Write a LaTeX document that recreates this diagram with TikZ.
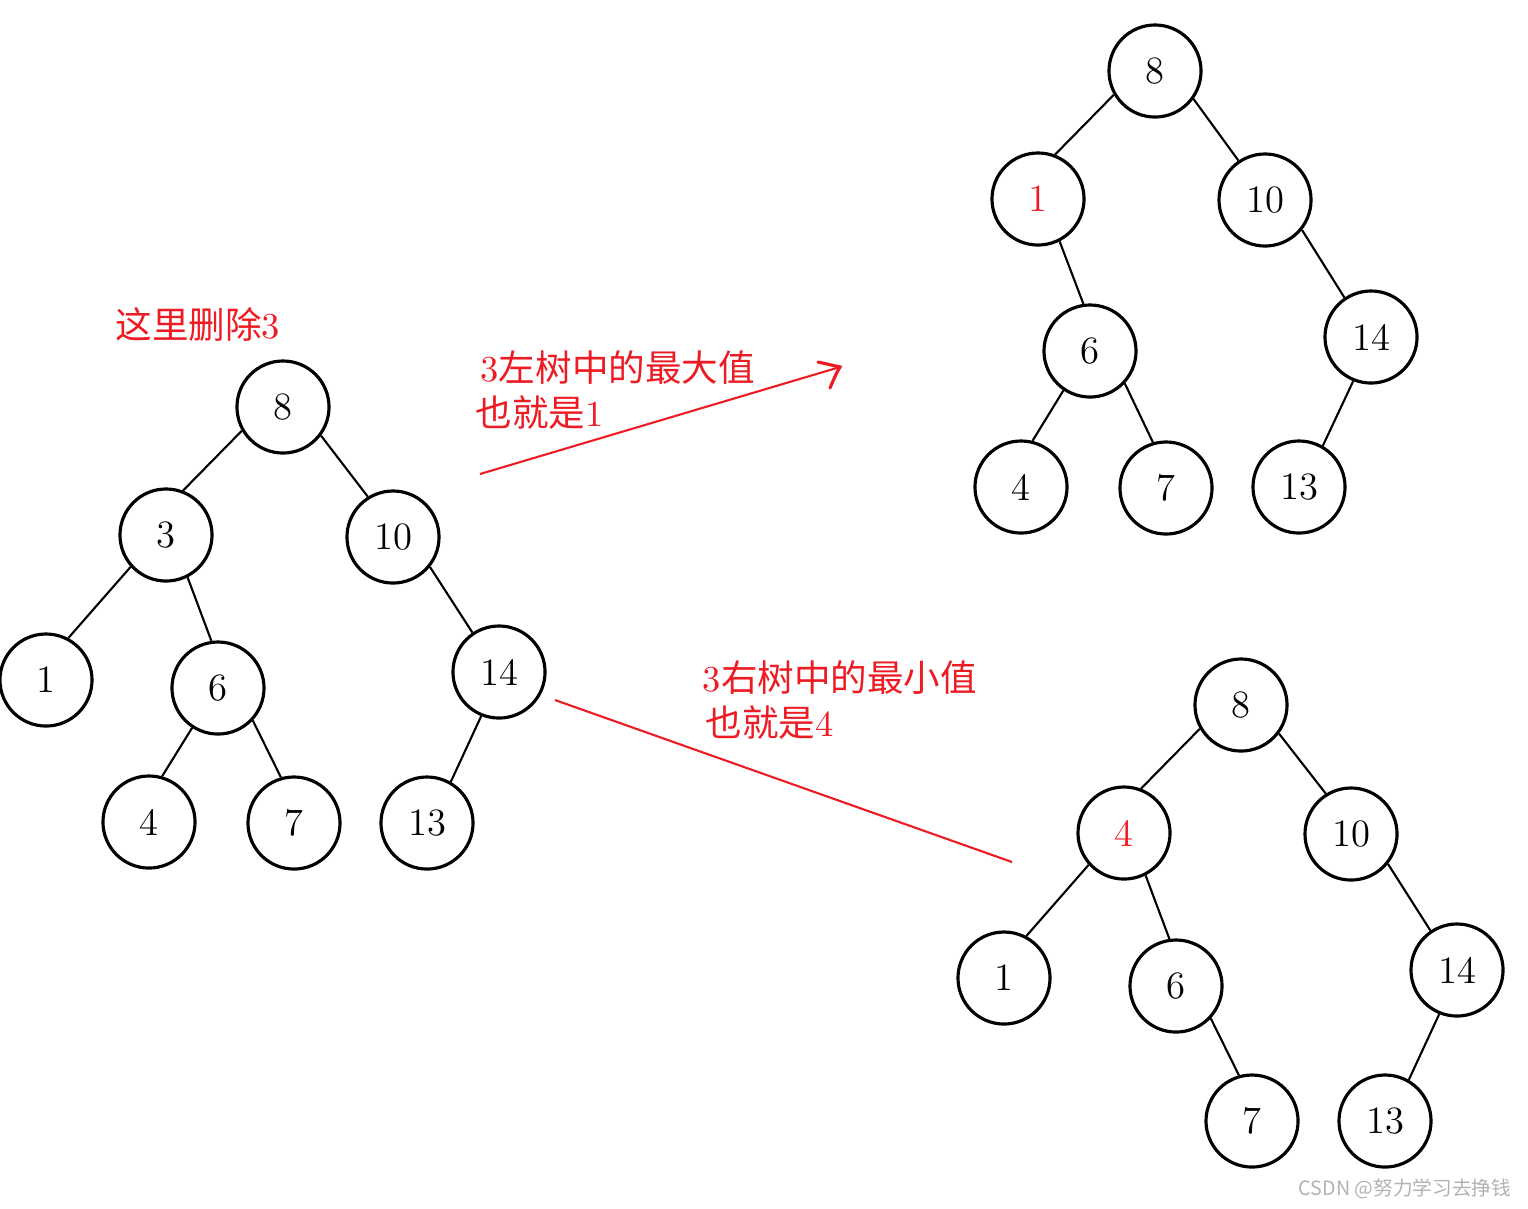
\documentclass[tikz,border=0pt]{standalone}
\usepackage{fontspec}
\newfontfamily\cjk{Noto Sans CJK SC}
\definecolor{paintred}{RGB}{237,28,36}
\begin{document}
\begin{tikzpicture}
[nodedecorate/.style={shape=circle,minimum size=0.92cm,inner sep=0pt,draw,line width=0.9pt,font=\fontsize{11}{13}\selectfont},%
  linedecorate/.style={-,line width=0.6pt},%
  redline/.style={-,paintred,line width=0.6pt},%
  redtext/.style={paintred,inner sep=0pt,align=left,font=\fontsize{10.4}{12.8}\selectfont},%
  x=0.01cm,y=-0.01cm]
\useasboundingbox (0,0) rectangle (1528,1208);
%% nodes of the tree before deleting
\foreach \nodename/\x/\y/\val in {
  L8/283/407/8, L3/166/535/3, L10/393/537/10, L1/46/680/1, L6/218/688/6,
  L14/499/672/14, L4/149/822/4, L7/294/823/7, L13/427/823/13} {
  \node (\nodename) at (\x,\y) [nodedecorate] {\val};
}
%% nodes of the upper tree (left maximum)
\foreach \nodename/\x/\y/\val/\col in {
  A8/1155/71/8/black, A1/1038/199/1/paintred, A10/1265/200/10/black,
  A6/1090/351/6/black, A14/1371/337/14/black, A4/1021/487/4/black,
  A7/1166/488/7/black, A13/1299/487/13/black} {
  \node (\nodename) at (\x,\y) [nodedecorate,text=\col] {\val};
}
%% nodes of the lower tree (right minimum)
\foreach \nodename/\x/\y/\val/\col in {
  B8/1241/705/8/black, B4/1124/833/4/paintred, B10/1351/834/10/black,
  B1/1004/978/1/black, B6/1176/986/6/black, B14/1457/970/14/black,
  B7/1252/1121/7/black, B13/1385/1121/13/black} {
  \node (\nodename) at (\x,\y) [nodedecorate,text=\col] {\val};
}
%% edges or lines
\path
\foreach \startnode/\sa/\endnode/\ea in {
  L8/210/L3/69, L8/323/L10/122, L3/222/L1/62, L3/297/L6/98,
  L10/321/L14/124, L6/237/L4/74, L6/317/L7/106, L14/248/L13/60,
  A8/210/A1/69, A8/324/A10/124, A1/297/A6/98, A6/236/A4/76,
  A6/317/A7/106, A10/321/A14/124, A14/248/A13/60,
  B8/210/B4/69, B8/323/B10/122, B4/222/B1/62, B4/297/B6/98,
  B6/317/B7/106, B10/321/B14/124, B14/248/B13/60} {
  (\startnode.\sa) edge[linedecorate] (\endnode.\ea)
};
%% texts
\node (deltext) [redtext,anchor=west] at (115,324) {{\cjk 这里删除}3};
\node (maxtext) [redtext,anchor=west] at (475,390) {\hspace{1.4pt}3{\cjk 左树中的最大值}\\{\cjk 也就是}1};
\node (mintext) [redtext,anchor=west] at (702,700) {3{\cjk 右树中的最小值}\\\hspace{0.8pt}{\cjk 也就是}4};
\node (mark) [anchor=east,inner sep=0pt,text=black!30,font=\cjk\fontsize{5.6}{7}\selectfont] at (1512,1189) {CSDN @努力学习去挣钱};
%% red connectors
\coordinate (arrowtail) at (480,474);
\coordinate (arrowtip) at (840,367);
\coordinate (linetail) at (555,700);
\coordinate (linehead) at (1012,862);
\draw[redline] (arrowtail) -- (arrowtip);
\draw[redline,line width=0.9pt,line cap=round] (818,362) -- (arrowtip) .. controls (836,374) .. (830,388);
\draw[redline] (linetail) -- (linehead);
\end{tikzpicture}
\end{document}
